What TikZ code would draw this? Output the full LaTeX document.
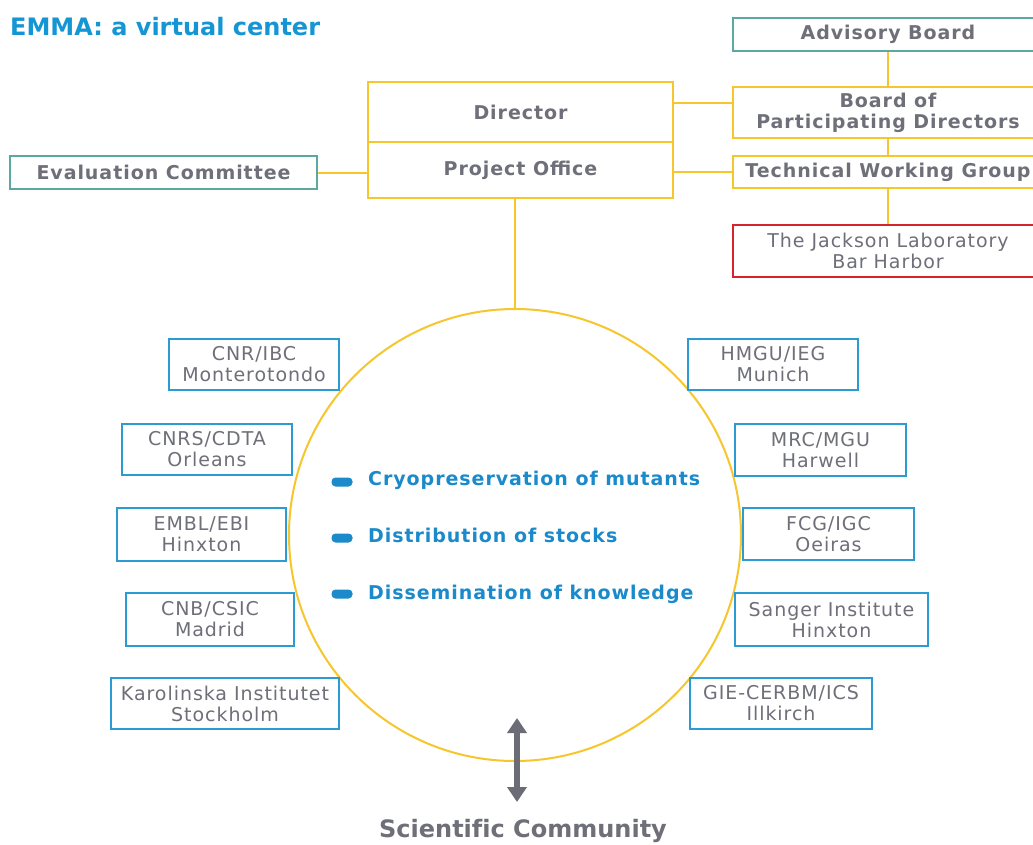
\documentclass[tikz,border=0pt]{standalone}
\usepackage{fontspec}
\setmainfont{DejaVu Sans}[LetterSpace=5]
\newfontfamily\plainfont{DejaVu Sans}[Ligatures=CommonOff]
\usetikzlibrary{arrows.meta}
\definecolor{tealc}{RGB}{91,168,160}
\definecolor{goldc}{RGB}{246,198,44}
\definecolor{instc}{RGB}{44,154,211}
\definecolor{redc}{RGB}{214,37,42}
\definecolor{txtc}{RGB}{110,111,120}
\definecolor{titlec}{RGB}{21,150,212}
\definecolor{bulc}{RGB}{26,138,203}
\definecolor{arrc}{RGB}{107,108,117}
\begin{document}
\begin{tikzpicture}[x=1pt,y=-1pt,
  box/.style={draw, line width=2pt, fill=white, inner sep=0pt, text=txtc, align=center,
    font=\fontsize{19}{21}\selectfont},
  boldbox/.style={box, font=\bfseries\fontsize{19}{21}\selectfont},
  govbox/.style={boldbox, draw=goldc},
  tealbox/.style={boldbox, draw=tealc},
  instbox/.style={box, draw=instc},
  jaxbox/.style={box, draw=redc},
  link/.style={draw=goldc, line width=2pt},
  bullet/.style={fill=bulc, rounded corners=4pt, minimum width=21pt, minimum height=9pt, inner sep=0pt},
  goal/.style={text=bulc, font=\bfseries\fontsize{19}{21}\selectfont, inner sep=0pt, anchor=base west},
  bigtext/.style={font=\plainfont\bfseries\fontsize{24}{28}\selectfont, inner sep=0pt}
]
\useasboundingbox (0,0) rectangle (1033,844);
\fill[white] (0,0) rectangle (1033,844);

% title
\node[bigtext, text=titlec, anchor=base west] (title) at (10,35) {EMMA: a virtual center};

% circle
\node[draw=goldc, line width=2pt, circle, minimum size=452pt, inner sep=0pt] (circ) at (515,535) {};

% governance boxes
\node[tealbox, minimum width=310pt, minimum height=33pt] (ab) at (888,34.5) {Advisory Board};
\node[govbox, minimum width=310pt, minimum height=51pt] (bpd) at (888,112.5) {Board of\\Participating Directors};
\node[govbox, minimum width=310pt, minimum height=32pt] (twg) at (888,172) {Technical Working Group};
\node[jaxbox, minimum width=310pt, minimum height=52pt] (jax) at (888,251) {The Jackson Laboratory\\Bar Harbor};
\node[govbox, minimum width=305pt, minimum height=60pt] (dir) at (520.5,112) {Director};
\node[govbox, minimum width=305pt, minimum height=56pt] (po) at (520.5,170) {Project Office};
\node[tealbox, minimum width=307pt, minimum height=33pt] (ec) at (163.5,172.5) {Evaluation Committee};

% connectors
\draw[link] (ab.south) -- (bpd.north);
\draw[link] (bpd.south) -- (twg.north);
\draw[link] (twg.south) -- (jax.north);
\draw[link] ([yshift=9pt]dir.east) -- ([yshift=9pt]dir.east -| bpd.west);
\draw[link] (twg.west) -- (twg.west -| po.east);
\draw[link] (ec.east) -- (ec.east -| po.west);
\draw[link] (circ.north) -- (circ.north |- po.south);

% institutions left
\node[instbox, minimum width=170pt, minimum height=51pt] (cnr) at (254,364.5) {CNR/IBC\\Monterotondo};
\node[instbox, minimum width=170pt, minimum height=51pt] (cnrs) at (207,449.5) {CNRS/CDTA\\Orleans};
\node[instbox, minimum width=169pt, minimum height=53pt] (embl) at (201.5,534.5) {EMBL/EBI\\Hinxton};
\node[instbox, minimum width=168pt, minimum height=53pt] (cnb) at (210,619.5) {CNB/CSIC\\Madrid};
\node[instbox, minimum width=228pt, minimum height=51pt] (ki) at (225,703.5) {Karolinska Institutet\\Stockholm};
% institutions right
\node[instbox, minimum width=170pt, minimum height=51pt] (hmgu) at (773,364.5) {HMGU/IEG\\Munich};
\node[instbox, minimum width=171pt, minimum height=52pt] (mrc) at (820.5,450) {MRC/MGU\\Harwell};
\node[instbox, minimum width=171pt, minimum height=52pt] (fcg) at (828.5,534) {FCG/IGC\\Oeiras};
\node[instbox, minimum width=193pt, minimum height=53pt] (sanger) at (831.5,619.5) {Sanger Institute\\Hinxton};
\node[instbox, minimum width=182pt, minimum height=51pt] (gie) at (781,703.5) {GIE-CERBM/ICS\\Illkirch};

% goals
\node[bullet] (b1) at (342,482) {};
\node[bullet] (b2) at (342,538) {};
\node[bullet] (b3) at (342,594) {};
\node[goal] (g1) at (368,485) {Cryopreservation of mutants};
\node[goal] (g2) at (368,542) {Distribution of stocks};
\node[goal] (g3) at (368,599) {Dissemination of knowledge};

% scientific community
\node[bigtext, text=txtc, anchor=base] (sc) at (523,837) {Scientific Community};
\coordinate (atop) at (517,718);
\coordinate (abot) at (517,802);
\draw[arrc, line width=6pt, {Triangle[width=19pt,length=15pt]}-{Triangle[width=19pt,length=15pt]}] (atop) -- (abot);
\end{tikzpicture}
\end{document}
